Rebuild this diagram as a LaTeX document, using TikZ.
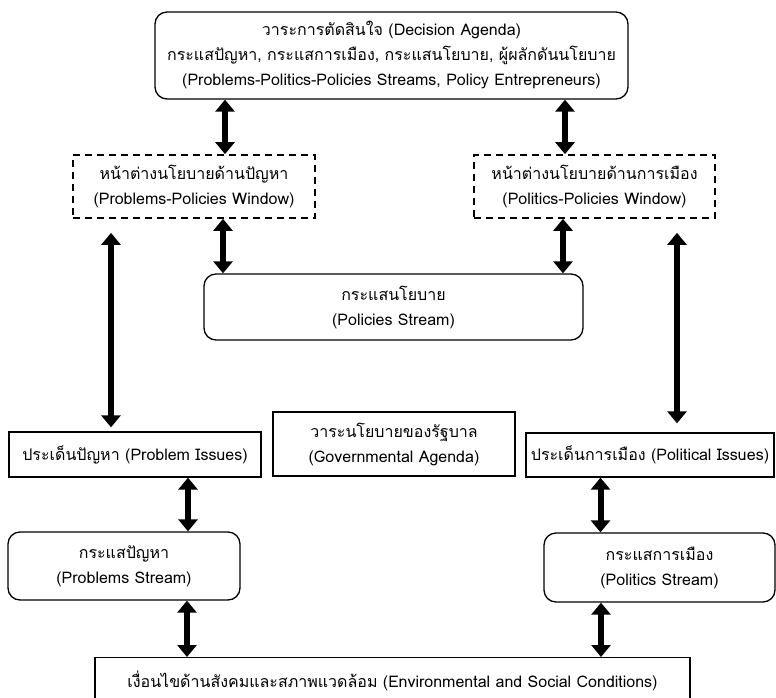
\documentclass[tikz,border=0pt]{standalone}
\usepackage{fontspec}
\setmainfont{Loma}[Script=Thai]
\usetikzlibrary{arrows.meta}

\tikzset{
  box/.style={draw, line width=1.3pt, align=center, inner sep=2pt},
  rbox/.style={box, rounded corners=12pt},
  winbox/.style={box, dash pattern=on 7pt off 5pt, line width=1.7pt},
  dbl/.style={line width=6pt, {Triangle[width=19pt,length=12pt]}-{Triangle[width=19pt,length=12pt]}},
}

\begin{document}
\begin{tikzpicture}[x=1pt, y=-1pt, font=\fontsize{16}{25}\selectfont]
  \useasboundingbox (0,0) rectangle (776,698);

  % streams and windows
  \node[rbox, minimum width=473pt, minimum height=87pt] (agenda) at (391.5,55.5)
    {วาระการตัดสินใจ (Decision Agenda)\\
     กระแสปัญหา, กระแสการเมือง, กระแสนโยบาย, ผู้ผลักดันนโยบาย\\
     (Problems-Politics-Policies Streams, Policy Entrepreneurs)};
  \node[winbox, minimum width=242pt, minimum height=63pt] (probwin) at (194,186.5)
    {หน้าต่างนโยบายด้านปัญหา\\(Problems-Policies Window)};
  \node[winbox, minimum width=241pt, minimum height=63pt] (polwin) at (594.5,186.5)
    {หน้าต่างนโยบายด้านการเมือง\\(Politics-Policies Window)};
  \node[rbox, minimum width=379pt, minimum height=66pt] (policies) at (393.5,307)
    {กระแสนโยบาย\\(Policies Stream)};

  % issues
  \node[box, minimum width=252pt, minimum height=45pt] (probiss) at (135,454.5)
    {ประเด็นปัญหา (Problem Issues)};
  \node[box, minimum width=242pt, minimum height=64pt] (govagenda) at (394,444)
    {วาระนโยบายของรัฐบาล\\(Governmental Agenda)};
  \node[box, minimum width=248pt, minimum height=44pt] (poliss) at (650,455)
    {ประเด็นการเมือง (Political Issues)};
  \node[rbox, minimum width=232pt, minimum height=68pt] (probstream) at (124,566)
    {กระแสปัญหา\\(Problems Stream)};
  \node[rbox, minimum width=231pt, minimum height=69pt] (polstream) at (659.5,567.5)
    {กระแสการเมือง\\(Politics Stream)};
  \node[box, minimum width=595pt, minimum height=46pt, anchor=north] (envcond) at (392.5,657)
    {เงื่อนไขด้านสังคมและสภาพแวดล้อม (Environmental and Social Conditions)};

  % two-way links
  \draw[dbl] ([xshift=31pt]probwin.north) -- ([xshift=31pt]probwin.north |- agenda.south);
  \draw[dbl] ([xshift=-29.5pt]polwin.north) -- ([xshift=-29.5pt]polwin.north |- agenda.south);
  \draw[dbl] ([xshift=29pt]probwin.south) -- ([xshift=29pt]probwin.south |- policies.north);
  \draw[dbl] ([xshift=-31.5pt]polwin.south) -- ([xshift=-31.5pt]polwin.south |- policies.north);
  \draw[dbl, shorten <=14pt, shorten >=4pt] ([xshift=-83pt]probwin.south) -- ([xshift=-83pt]probwin.south |- probiss.north);
  \draw[dbl, shorten <=14pt, shorten >=9pt] ([xshift=82.5pt]polwin.south) -- ([xshift=82.5pt]polwin.south |- poliss.north);
  \draw[dbl] ([xshift=53pt]probiss.south) -- ([xshift=53pt]probiss.south |- probstream.north);
  \draw[dbl] ([xshift=-49.5pt]poliss.south) -- ([xshift=-49.5pt]poliss.south |- polstream.north);
  \draw[dbl] ([xshift=63pt]probstream.south) -- ([xshift=63pt]probstream.south |- envcond.north);
  \draw[dbl] ([xshift=-58.5pt]polstream.south) -- ([xshift=-58.5pt]polstream.south |- envcond.north);

\end{tikzpicture}
\end{document}
